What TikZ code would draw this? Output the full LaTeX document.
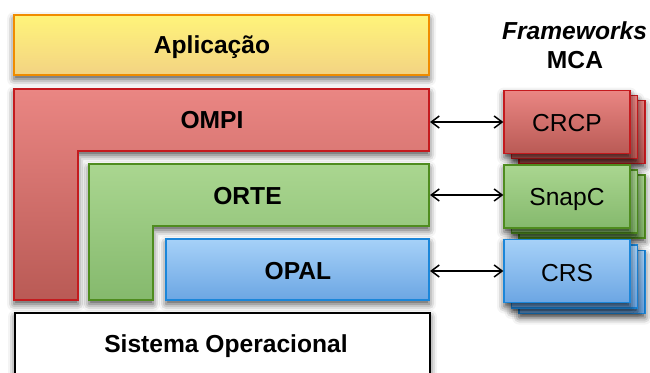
\documentclass[tikz,border=0pt]{standalone}
\usepackage{fontspec}
\setmainfont{Liberation Sans}
\usetikzlibrary{shadows.blur,arrows.meta}
\definecolor{ylT}{HTML}{FFF47A}\definecolor{ylB}{HTML}{F3D383}\definecolor{ylD}{HTML}{F08C00}
\definecolor{rdT}{HTML}{EA8683}\definecolor{rdB}{HTML}{B95A55}\definecolor{rdD}{HTML}{C41A1E}
\definecolor{gnT}{HTML}{AAD690}\definecolor{gnB}{HTML}{85B96D}\definecolor{gnD}{HTML}{4F8C1F}
\definecolor{blT}{HTML}{A6D1F8}\definecolor{blB}{HTML}{6CA6E3}\definecolor{blD}{HTML}{1B86D9}
\tikzset{
  shd/.style={blur shadow={shadow xshift=0pt,shadow yshift=-4pt,shadow blur radius=7pt,shadow opacity=70}},
  layer/.style={shd,line width=1.3pt},
  ylw/.style={layer,draw=ylD,top color=ylT,bottom color=ylB},
  red/.style={layer,draw=rdD,top color=rdT,bottom color=rdB},
  grn/.style={layer,draw=gnD,top color=gnT,bottom color=gnB},
  blu/.style={layer,draw=blD,top color=blT,bottom color=blB},
  wht/.style={layer,draw=black,fill=white},
  lbl/.style={anchor=base,inner sep=0pt,font=\fontsize{24.6}{28}\selectfont\bfseries},
  mlbl/.style={anchor=base,inner sep=0pt,font=\fontsize{24.6}{28}\selectfont},
  mbox/.style={rectangle,minimum width=126pt,minimum height=63pt,inner sep=0pt,line width=1.3pt,shd},
  conn/.style={line width=1.5pt,{Straight Barb[length=8pt,width=12pt]}-{Straight Barb[length=8pt,width=12pt]}}
}
\begin{document}
\begin{tikzpicture}[x=1pt,y=-1pt]
\useasboundingbox (0,0) rectangle (650,372);
\clip (0,0) rectangle (650,372);
% Aplicacao
\path[ylw] (14,15) rectangle (429,75);
\node[lbl] (aplic) at (212,53.3) {Aplicação};
% OMPI L-shape
\path[red] (14,89) -- (429,89) -- (429,151) -- (78,151) -- (78,300) -- (14,300) -- cycle;
\node[lbl] (ompi) at (212,128.3) {OMPI};
% ORTE L-shape
\path[grn] (89,164) -- (429,164) -- (429,226) -- (153,226) -- (153,300) -- (89,300) -- cycle;
\node[lbl] (orte) at (247.5,204) {ORTE};
% OPAL
\path[blu] (166,239) rectangle (429,300);
\node[lbl] (opal) at (298,279) {OPAL};
% Sistema Operacional
\path[wht] (15,313) rectangle (430,390);
\node[lbl] (so) at (226,352) {Sistema Operacional};
% Frameworks MCA
\node[lbl,font=\fontsize{24.6}{28}\selectfont\bfseries\itshape] (fw) at (574.5,39.3) {Frameworks};
\node[lbl] (mca) at (575,68) {MCA};
% CRCP stack
\node[mbox,draw=rdD,top color=rdT,bottom color=rdB] (crcp3) at (582,132) {};
\node[mbox,draw=rdD,top color=rdT,bottom color=rdB] (crcp2) at (574.5,127) {};
\node[mbox,draw=rdD,top color=rdT,bottom color=rdB] (crcp) at (567,122) {};
\node[mlbl] (crcpt) at (567,131.3) {CRCP};
% SnapC stack
\node[mbox,draw=gnD,top color=gnT,bottom color=gnB] (snap3) at (582,206.5) {};
\node[mbox,draw=gnD,top color=gnT,bottom color=gnB] (snap2) at (574.5,201.5) {};
\node[mbox,draw=gnD,top color=gnT,bottom color=gnB] (snap) at (567,196.5) {};
\node[mlbl] (snapt) at (567,205.6) {SnapC};
% CRS stack
\node[mbox,draw=blD,top color=blT,bottom color=blB] (crs3) at (582,282) {};
\node[mbox,draw=blD,top color=blT,bottom color=blB] (crs2) at (574.5,276.5) {};
\node[mbox,draw=blD,top color=blT,bottom color=blB] (crs) at (567,271) {};
\node[mlbl] (crst) at (567,281.3) {CRS};
% connectors
\coordinate (ompiR) at (430,122);
\coordinate (orteR) at (430,195);
\coordinate (opalR) at (430,271);
\draw[conn] (ompiR) -- (crcp.west);
\draw[conn] (orteR) -- (orteR -| snap.west);
\draw[conn] (opalR) -- (crs.west);
\end{tikzpicture}
\end{document}
